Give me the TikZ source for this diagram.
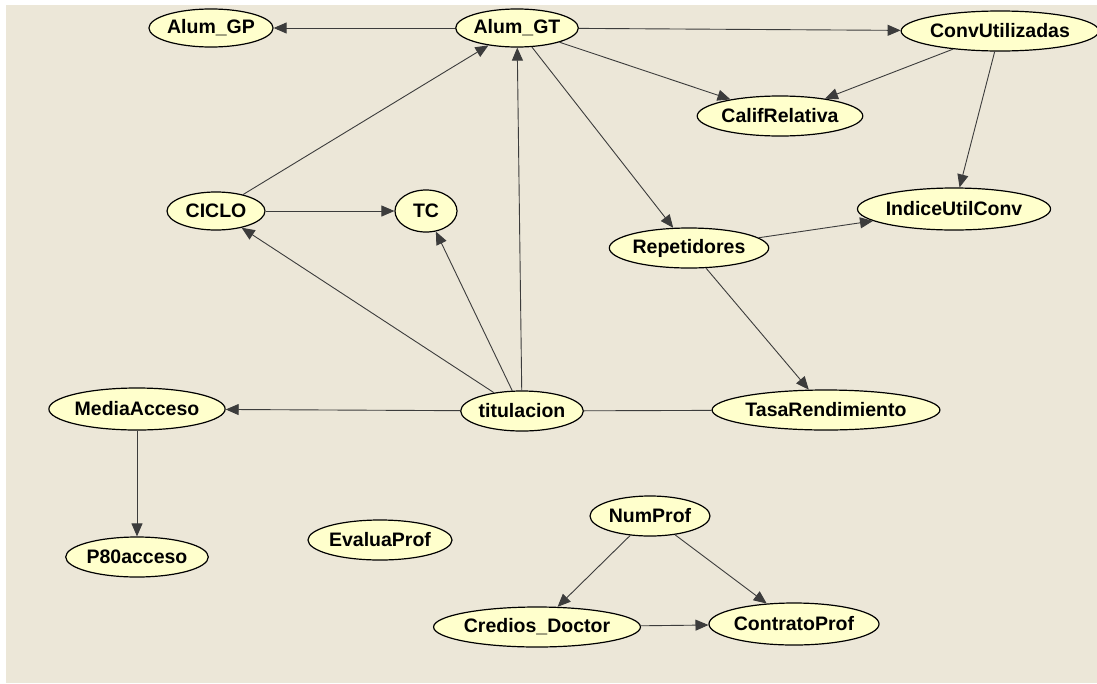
\documentclass[tikz,border=0pt]{standalone}
\usepackage{fontspec}
\setmainfont{Liberation Sans}
\usetikzlibrary{shapes.geometric,arrows.meta}
\definecolor{panel}{HTML}{ECE7D8}
\definecolor{nodefill}{HTML}{FFFFCC}
\definecolor{linec}{HTML}{3C3C3C}
\begin{document}
\begin{tikzpicture}[x=1pt,y=-1pt,
  var/.style={ellipse, draw=black, line width=1.2pt, fill=nodefill, inner sep=0pt,
              font=\bfseries\fontsize{19.5}{20}\selectfont},
  link/.style={draw=linec, line width=0.9pt},
  arc/.style={link, -{Triangle[length=13pt,width=11pt]}}]
\useasboundingbox (0,0) rectangle (1097,683);
\fill[white] (0,0) rectangle (1097,683);
\fill[panel] (6,5) rectangle (1097,683);

% variables
\node[var, minimum width=118pt, minimum height=38pt] (gp)   at (211,28)  {Alum\_GP};
\node[var, minimum width=121pt, minimum height=38pt] (gt)   at (517,28)  {Alum\_GT};
\node[var, minimum width=180pt, minimum height=40pt] (conv) at (1000,31) {ConvUtilizadas};
\node[var, minimum width=155pt, minimum height=40pt] (calif) at (780,116) {CalifRelativa};
\node[var, minimum width=172pt, minimum height=42pt] (indice) at (954,209) {IndiceUtilConv};
\node[var, minimum width=154pt, minimum height=40pt] (rep)  at (689,248) {Repetidores};
\node[var, minimum width=98pt,  minimum height=38pt] (ciclo) at (216,211) {CICLO};
\node[var, minimum width=62pt,  minimum height=42pt] (tc)   at (426,211) {TC};
\node[var, minimum width=160pt, minimum height=42pt] (media) at (137,409) {MediaAcceso};
\node[var, minimum width=121pt, minimum height=40pt] (tit)  at (522,411) {titulacion};
\node[var, minimum width=206pt, minimum height=40pt] (tasa) at (826,410) {TasaRendimiento};
\node[var, minimum width=137pt, minimum height=40pt] (p80)  at (137,557) {P80acceso};
\node[var, minimum width=136pt, minimum height=40pt] (eval) at (380,540) {EvaluaProf};
\node[var, minimum width=120pt, minimum height=40pt] (num)  at (650,516) {NumProf};
\node[var, minimum width=185pt, minimum height=40pt] (cred) at (537,627) {Credios\_Doctor};
\node[var, minimum width=158pt, minimum height=42pt] (cont) at (794,624) {ContratoProf};

% dependencies
\draw[arc] (gt) -- (gp);
\draw[arc] (gt) -- (conv);
\draw[arc] (gt) -- (calif);
\draw[arc] (conv) -- (calif);
\draw[arc] (conv) -- (indice);
\draw[arc] (gt) -- (rep);
\draw[arc] (rep) -- (indice);
\draw[arc] (rep) -- (tasa);
\draw[arc] (ciclo) -- (gt);
\draw[arc] (ciclo) -- (tc);
\draw[arc] (tit) -- (ciclo);
\draw[arc] (tit) -- (tc);
\draw[arc] (tit) -- (gt);
\draw[arc] (tit) -- (media);
\draw[link] (tit) -- (tasa);
\draw[arc] (media) -- (p80);
\draw[arc] (num) -- (cred);
\draw[arc] (num) -- (cont);
\draw[arc] (cred) -- (cont);
\end{tikzpicture}
\end{document}
